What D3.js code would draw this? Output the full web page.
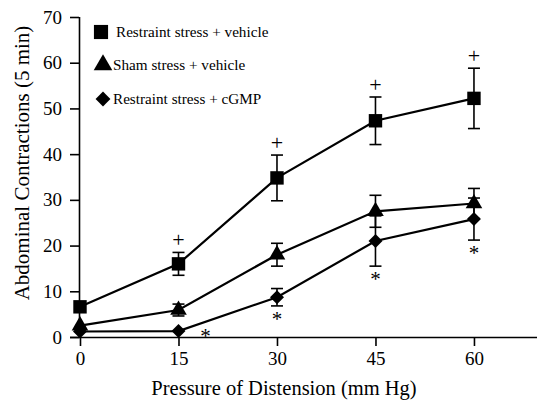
<!DOCTYPE html>
<html><head><meta charset="utf-8">
<script src="https://cdn.jsdelivr.net/npm/d3@7"></script>
<style>body{margin:0;background:#fff}svg{display:block}</style>
</head><body>
<svg id="c" width="537" height="400"></svg>
<script>
const pressures = [0, 15, 30, 45, 60];
const seriesNames = ["Restraint stress + vehicle", "Sham stress + vehicle", "Restraint stress + cGMP"];
const restraintVehicle = [6.6, 16, 34.8, 47.3, 52.2];
const restraintVehicleErr = [0, 2.5, 5, 5.2, 6.6];
const shamVehicle = [2.5, 5.9, 18, 27.5, 29.2];
const shamVehicleErr = [0, 1.3, 2.5, 3.5, 3.3];
const restraintCGMP = [1.2, 1.3, 8.7, 21, 25.8];
const restraintCGMPErr = [0, 0, 1.9, 5.5, 4.6];
const yTicks = [0, 10, 20, 30, 40, 50, 60, 70];
const plusMarks = [15, 30, 45, 60];
const starMarks = [15, 30, 45, 60];

const FONT = "'Liberation Serif', 'Times New Roman', Times, serif";
const svg = d3.select("#c").attr("font-family", FONT).style("font-family", FONT);
const x = d3.scaleLinear().domain([0, 69.6]).range([80, 537]);
const y = d3.scaleLinear().domain([0, 70]).range([337, 17]);

const yAxis = svg.append("g").attr("transform", "translate(79,0)")
  .call(d3.axisLeft(y).tickValues(yTicks).tickSize(9).tickPadding(8).tickSizeOuter(0));
const xAxis = svg.append("g").attr("transform", "translate(0,337)")
  .call(d3.axisBottom(x).tickValues(pressures).tickSize(9).tickPadding(6).tickSizeOuter(0));
[xAxis, yAxis].forEach(a => a.attr("font-family", FONT).attr("font-size", 19));
svg.selectAll(".tick text").style("font-family", FONT).style("font-size", "19px").attr("fill", "#000");
svg.selectAll(".domain").attr("stroke", "#000").attr("stroke-width", 1.6);
svg.selectAll(".tick line").attr("stroke", "#000").attr("stroke-width", 1.6);
xAxis.select(".domain").attr("d", "M70,0.5H537");
yAxis.select(".domain").attr("d", "M0.5,17V337");

svg.append("text").attr("x", 284).attr("y", 395).attr("text-anchor", "middle")
  .style("font-family", FONT).style("font-size", "20.5px").text("Pressure of Distension (mm Hg)");
svg.append("text").attr("transform", "translate(29,163) rotate(-90)").attr("text-anchor", "middle")
  .style("font-family", FONT).style("font-size", "21px").text("Abdominal Contractions (5 min)");

const diamond = {draw(ctx, size) { const r = Math.sqrt(size / 2); ctx.moveTo(0, -r); ctx.lineTo(r, 0); ctx.lineTo(0, r); ctx.lineTo(-r, 0); ctx.closePath(); }};
const series = [
  {vals: restraintVehicle, err: restraintVehicleErr, shape: d3.symbolSquare, size: 180},
  {vals: shamVehicle, err: shamVehicleErr, shape: d3.symbolTriangle, size: 120},
  {vals: restraintCGMP, err: restraintCGMPErr, shape: diamond, size: 98}
];
const line = d3.line().x((d, i) => x(pressures[i])).y(d => y(d));

series.forEach(s => {
  const g = svg.append("g");
  pressures.forEach((p, i) => {
    if (!s.err[i]) return;
    const top = y(s.vals[i] + s.err[i]), bot = y(s.vals[i] - s.err[i]), cx = x(p);
    g.append("line").attr("x1", cx).attr("x2", cx).attr("y1", top).attr("y2", bot).attr("stroke", "#000").attr("stroke-width", 1.6);
    [top, bot].forEach(yy => g.append("line").attr("x1", cx - 6).attr("x2", cx + 6).attr("y1", yy).attr("y2", yy).attr("stroke", "#000").attr("stroke-width", 1.6));
  });
  g.append("path").attr("d", line(s.vals)).attr("fill", "none").attr("stroke", "#000").attr("stroke-width", 2.2);
  g.selectAll("path.m").data(s.vals).join("path").attr("class", "m")
    .attr("transform", (d, i) => `translate(${x(pressures[i])},${y(d)})`)
    .attr("d", d3.symbol().type(s.shape).size(s.size)).attr("fill", "#000");
});

plusMarks.forEach(p => {
  const i = pressures.indexOf(p);
  const yy = y(restraintVehicle[i] + restraintVehicleErr[i]) - 5;
  svg.append("text").attr("x", x(p)).attr("y", yy).attr("text-anchor", "middle")
    .style("font-family", FONT).style("font-size", "22px").text("+");
});
starMarks.forEach(p => {
  const i = pressures.indexOf(p);
  let cx = x(p), yy = y(restraintCGMP[i] - restraintCGMPErr[i]) + 20;
  if (p === 15) { cx = x(p) + 27; yy = y(restraintCGMP[i]) + 12; }
  svg.append("text").attr("x", cx).attr("y", yy).attr("text-anchor", "middle")
    .style("font-family", FONT).style("font-size", "21px").text("*");
});

const legend = svg.append("g");
const legY = [32, 65, 99];
const legShapes = [d3.symbolSquare, d3.symbolTriangle, diamond];
const legSizes = [200, 150, 110];
const legX = [101, 103, 103];
const legTextX = [116, 113, 113];
seriesNames.forEach((n, i) => {
  legend.append("path").attr("transform", `translate(${legX[i]},${legY[i]})`)
    .attr("d", d3.symbol().type(legShapes[i]).size(legSizes[i])).attr("fill", "#000");
  legend.append("text").attr("x", legTextX[i]).attr("y", legY[i] + 5)
    .style("font-family", FONT).style("font-size", "15.2px").text(n);
});
</script>
</body></html>
